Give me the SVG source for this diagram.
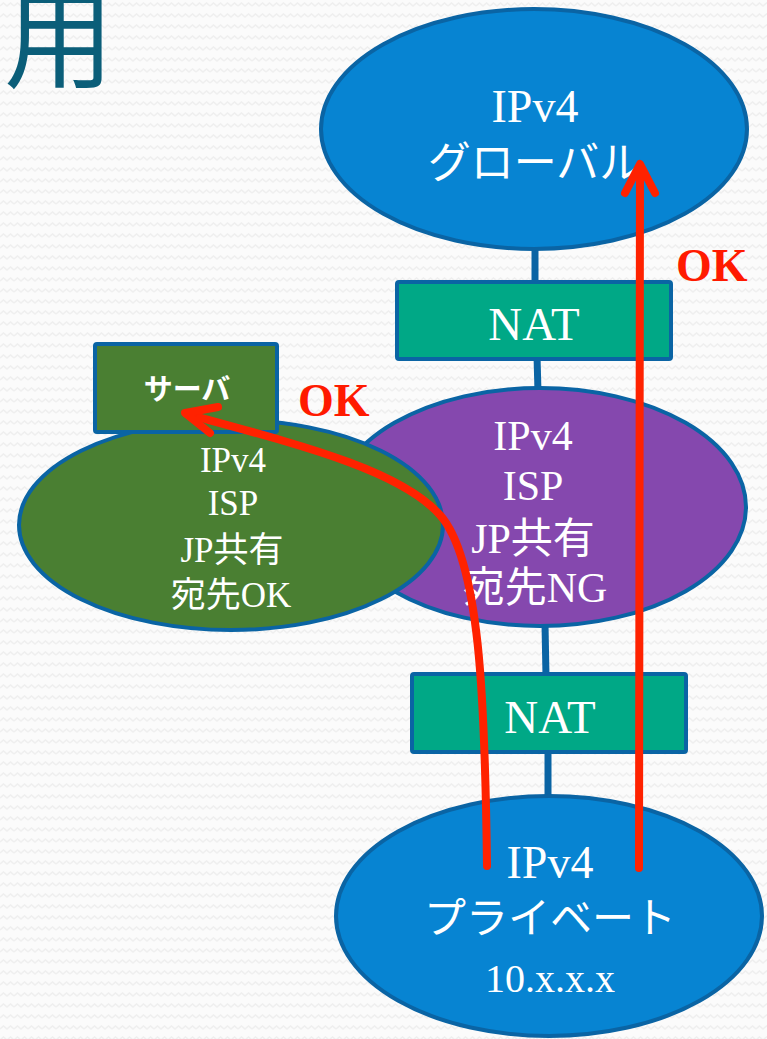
<svg xmlns="http://www.w3.org/2000/svg" width="767" height="1039" viewBox="0 0 767 1039">
<defs>
<pattern id="bg" width="14" height="11" patternUnits="userSpaceOnUse">
<rect width="14" height="11" fill="#fbfbfb"/>
<path d="M0,6 L3.5,3 L7,6 L10.5,3 L14,6" fill="none" stroke="#efefef" stroke-width="1.5"/>
</pattern>
<style>
.lbl{font-family:"Liberation Serif","Noto Sans CJK JP",serif;fill:#ffffff;text-anchor:middle}
.ok{font-family:"Liberation Serif",serif;font-weight:bold;fill:#ff1a00;font-size:46px}
.node{stroke:#0a64a4;stroke-width:4}
.stem{stroke:#0a64a4;stroke-width:7;fill:none}
.arrow{stroke:#ff2200;stroke-width:8;fill:none;stroke-linecap:round;stroke-linejoin:round}
</style>
</defs>
<rect width="767" height="1039" fill="url(#bg)"/>
<text x="4" y="80" font-family="Noto Sans CJK JP, sans-serif" font-size="110" fill="#0b5e79">用</text>

<g id="connectors-lines">
<line class="stem" x1="535" y1="245" x2="535" y2="285"/>
<line class="stem" x1="537" y1="356" x2="538" y2="392"/>
<line class="stem" x1="545" y1="624" x2="546" y2="677"/>
<line class="stem" x1="548" y1="749" x2="548" y2="799"/>
</g>

<g id="global">
<ellipse class="node" cx="534" cy="129" rx="213" ry="120" fill="#0784d2"/>
<text class="lbl" x="535" y="122" font-size="46">IPv4</text>
<text class="lbl" x="535" y="178" font-size="43">グローバル</text>
</g>

<g id="nat1">
<rect class="node" x="397" y="282" width="274" height="77" rx="2" fill="#00a886"/>
<text class="lbl" x="534" y="340" font-size="47">NAT</text>
</g>

<g id="isp-ng">
<ellipse class="node" cx="540" cy="507" rx="206" ry="119" fill="#8548ae"/>
<text class="lbl" x="533" y="450" font-size="42">IPv4</text>
<text class="lbl" x="533" y="500" font-size="42">ISP</text>
<text class="lbl" x="533" y="553" font-size="42">JP共有</text>
<text class="lbl" x="535" y="602" font-size="42">宛先NG</text>
</g>

<g id="isp-ok">
<ellipse class="node" cx="231" cy="525" rx="212" ry="105" fill="#4a7f32"/>
<text class="lbl" x="233" y="472" font-size="35">IPv4</text>
<text class="lbl" x="233" y="515" font-size="35">ISP</text>
<text class="lbl" x="232" y="562" font-size="35">JP共有</text>
<text class="lbl" x="231" y="607" font-size="35">宛先OK</text>
</g>

<g id="server">
<rect class="node" x="95" y="344" width="182" height="88" rx="2" fill="#4a7f32"/>
<text class="lbl" x="187" y="400" font-size="29" font-weight="bold">サーバ</text>
</g>

<g id="nat2">
<rect class="node" x="412" y="674" width="274" height="78" rx="2" fill="#00a886"/>
<text class="lbl" x="550" y="733" font-size="47">NAT</text>
</g>

<g id="private">
<ellipse class="node" cx="549" cy="916" rx="213" ry="120" fill="#0784d2"/>
<text class="lbl" x="550" y="878" font-size="46">IPv4</text>
<text class="lbl" x="550" y="933" font-size="42">プライベート</text>
<text class="lbl" x="550" y="992" font-size="40">10.x.x.x</text>
</g>

<g id="connectors">
<line class="arrow" x1="639" y1="868" x2="640" y2="166"/>
<polyline class="arrow" points="625,193 640,164 655,193"/>
<path class="arrow" d="M487,866 C485,700 480,560 440,515 C400,470 300,445 187,414"/>
<polyline class="arrow" points="218,407 185,413 210,433"/>
<text class="ok" x="676" y="281">OK</text>
<text class="ok" x="298" y="416">OK</text>
</g>
</svg>
